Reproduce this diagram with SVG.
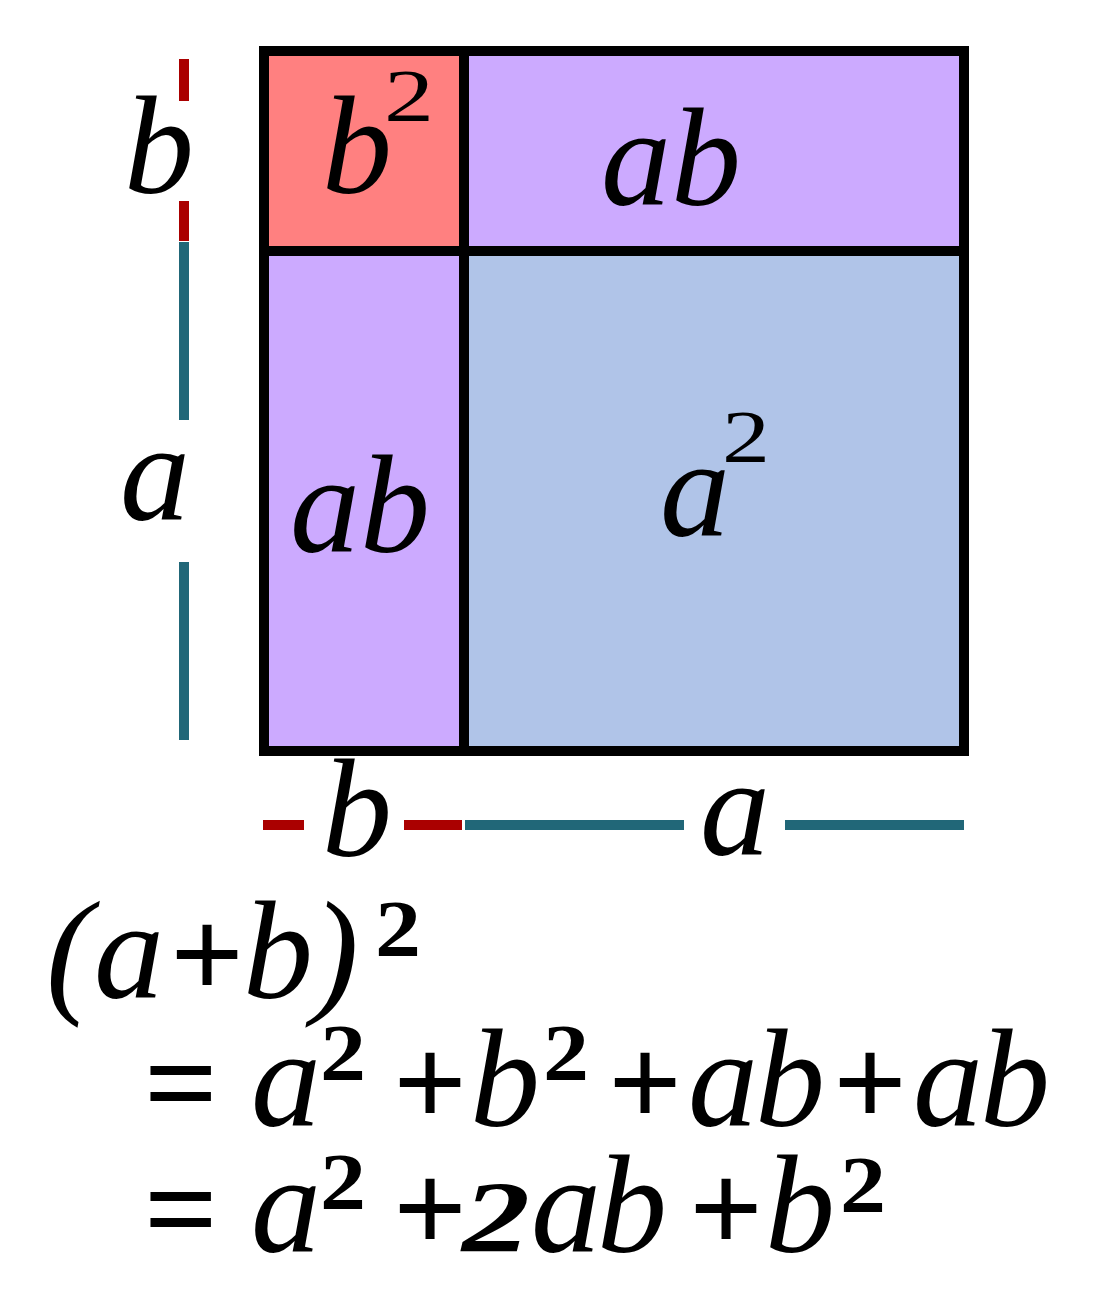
<svg xmlns="http://www.w3.org/2000/svg" width="1100" height="1302" viewBox="0 0 1100 1302">
<style>
.t{font-family:"Liberation Serif","Times New Roman",serif;font-style:italic;font-size:140px;fill:#000}
.s{font-family:"Liberation Serif","Times New Roman",serif;font-size:73px;fill:#000}
.sb{font-family:"Liberation Serif","Times New Roman",serif;font-weight:bold;font-size:80px;fill:#000}
.big2{font-family:"Liberation Serif","Times New Roman",serif;font-weight:bold;font-style:italic;font-size:101px;fill:#000}
.op{font-style:normal;font-weight:bold;font-size:130px}
.box{stroke:#000;stroke-width:10}
.red{stroke:#aa0000;stroke-width:10;fill:none}
.teal{stroke:#216778;stroke-width:10;fill:none}
</style>
<rect width="1100" height="1302" fill="#fff"/>
<g id="square-b2">
<rect x="264" y="51" width="200" height="200" fill="#ff8080" class="box"/>
<text class="t" x="322" y="193">b</text>
<text class="s" x="384" y="121" textLength="50" lengthAdjust="spacingAndGlyphs">2</text>
</g>
<g id="rect-ab-top">
<rect x="464" y="51" width="500" height="200" fill="#ccaaff" class="box"/>
<text class="t" x="601" y="205">ab</text>
</g>
<g id="rect-ab-left">
<rect x="264" y="251" width="200" height="500" fill="#ccaaff" class="box"/>
<text class="t" x="290" y="552">ab</text>
</g>
<g id="square-a2">
<rect x="464" y="251" width="500" height="500" fill="#b0c4e8" class="box"/>
<text class="t" x="660" y="536">a</text>
<text class="s" x="722" y="462" textLength="48" lengthAdjust="spacingAndGlyphs">2</text>
</g>
<g id="dimensions">
<line class="red" x1="184" y1="59" x2="184" y2="101"/>
<line class="red" x1="184" y1="201" x2="184" y2="241"/>
<line class="teal" x1="184" y1="242" x2="184" y2="420"/>
<line class="teal" x1="184" y1="562" x2="184" y2="740"/>
<line class="red" x1="263" y1="825" x2="304" y2="825"/>
<line class="red" x1="404" y1="825" x2="462" y2="825"/>
<line class="teal" x1="465" y1="825" x2="684" y2="825"/>
<line class="teal" x1="785" y1="825" x2="964" y2="825"/>
<text class="t" x="124" y="193">b</text>
<text class="t" x="120" y="520">a</text>
<text class="t" x="322" y="856">b</text>
<text class="t" x="700" y="855">a</text>
</g>
<g id="formula">
<text class="t" x="46" y="998">(<tspan x="94">a</tspan><tspan class="op" x="170">+</tspan><tspan x="243">b</tspan><tspan x="312">)</tspan></text>
<text class="sb" x="375" y="956" textLength="46" lengthAdjust="spacingAndGlyphs">2</text>
<text class="t" x="144" y="1126"><tspan class="op">=</tspan><tspan x="251">a</tspan><tspan class="op" x="393">+</tspan><tspan x="470">b</tspan><tspan class="op" x="608">+</tspan><tspan x="688">a</tspan><tspan x="755">b</tspan><tspan class="op" x="833">+</tspan><tspan x="913">a</tspan><tspan x="980">b</tspan></text>
<text class="sb" x="320" y="1080" textLength="46" lengthAdjust="spacingAndGlyphs">2</text>
<text class="sb" x="543" y="1080" textLength="46" lengthAdjust="spacingAndGlyphs">2</text>
<text class="t" x="144" y="1252"><tspan class="op">=</tspan><tspan x="251">a</tspan><tspan class="op" x="393">+</tspan><tspan x="531">a</tspan><tspan x="597">b</tspan><tspan class="op" x="689">+</tspan><tspan x="765">b</tspan></text>
<text class="big2" x="462" y="1252" textLength="68" lengthAdjust="spacingAndGlyphs">2</text>
<text class="sb" x="320" y="1209" textLength="46" lengthAdjust="spacingAndGlyphs">2</text>
<text class="sb" x="840" y="1212" textLength="46" lengthAdjust="spacingAndGlyphs">2</text>
</g>
</svg>
